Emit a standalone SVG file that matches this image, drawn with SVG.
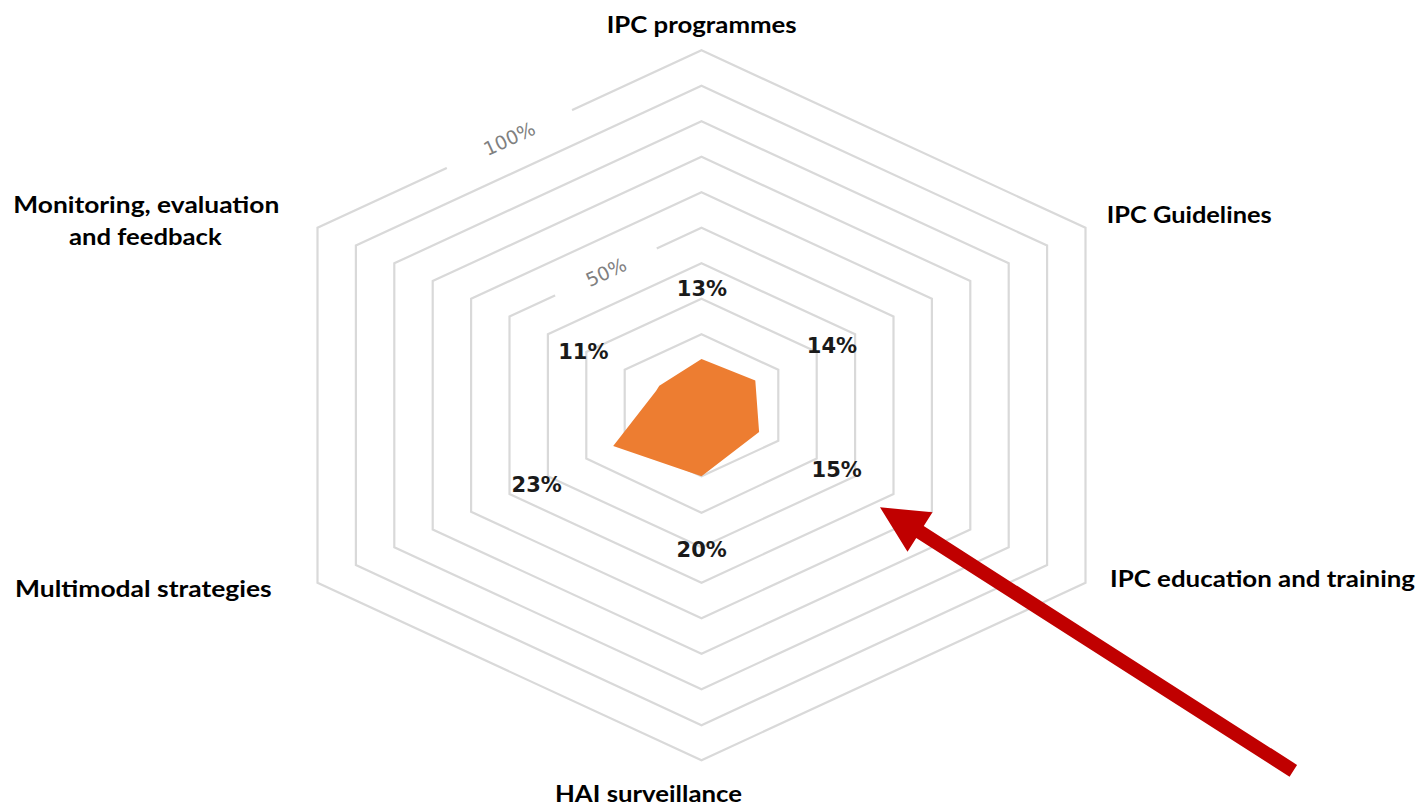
<svg xmlns="http://www.w3.org/2000/svg" width="1419" height="808" viewBox="0 0 1419 808">
<style>
.ring{fill:none;stroke:#d9d9d9;stroke-width:2.2}
.gap{fill:#ffffff}
.tick{font-family:"DejaVu Sans",sans-serif;font-size:19px;fill:#808080;text-anchor:middle}
.val{font-family:"DejaVu Sans",sans-serif;font-size:21px;font-weight:bold;fill:#1a1a1a;text-anchor:middle}
.axis{font-family:Lato,"Liberation Sans",sans-serif;font-size:23px;font-weight:bold;fill:#000000}
</style>
<rect width="1419" height="808" fill="#ffffff"/>
<g id="grid">
<polygon class="ring" points="701.5,369.8 739.9,387.55 739.9,423.05 701.5,440.8 663.1,423.05 663.1,387.55"/>
<polygon class="ring" points="701.5,334.3 778.3,369.8 778.3,440.8 701.5,476.3 624.7,440.8 624.7,369.8"/>
<polygon class="ring" points="701.5,298.8 816.7,352.05 816.7,458.55 701.5,512.8 586.3,458.55 586.3,352.05"/>
<polygon class="ring" points="701.5,263.3 855.1,334.3 855.1,476.3 701.5,547.3 547.9,476.3 547.9,334.3"/>
<polygon class="ring" points="701.5,227.8 893.5,316.55 893.5,494.05 701.5,582.8 509.5,494.05 509.5,316.55"/>
<polygon class="ring" points="701.5,192.3 931.9,298.8 931.9,511.8 701.5,618.3 471.1,511.8 471.1,298.8"/>
<polygon class="ring" points="701.5,156.8 970.3,281.05 970.3,529.55 701.5,653.8 432.7,529.55 432.7,281.05"/>
<polygon class="ring" points="701.5,121.3 1008.7,263.3 1008.7,547.3 701.5,689.3 394.3,547.3 394.3,263.3"/>
<polygon class="ring" points="701.5,85.8 1047.1,245.55 1047.1,565.05 701.5,725.3 355.9,565.05 355.9,245.55"/>
<polygon class="ring" points="701.5,50.3 1085.5,227.8 1085.5,582.8 701.5,760.3 317.5,582.8 317.5,227.8"/>
</g>
<g id="tick-100" transform="translate(509.2,138.5) rotate(-24.8)">
<rect class="gap" x="-69" y="-7" width="138" height="14"/>
<text class="tick" x="0" y="7">100%</text>
</g>
<g id="tick-50" transform="translate(606,272) rotate(-24.8)">
<rect class="gap" x="-56" y="-7" width="112" height="14"/>
<text class="tick" x="0" y="7">50%</text>
</g>
<g id="series">
<polygon fill="#ED7D31" points="701.5,359.1 755.3,380.45 759.1,432.0 701.5,476.3 613.2,446.1 656,391 659.3,385.8"/>
</g>
<g id="values">
<text class="val" x="702" y="296">13%</text>
<text class="val" x="832" y="353.3">14%</text>
<text class="val" x="836.7" y="477.3">15%</text>
<text class="val" x="701.7" y="557.3">20%</text>
<text class="val" x="536.7" y="492.3">23%</text>
<text class="val" x="583.3" y="359.3">11%</text>
</g>
<g id="axis-ipc-programmes"><text class="axis" x="606.7" y="33.3" textLength="190" lengthAdjust="spacingAndGlyphs">IPC programmes</text></g>
<g id="axis-ipc-guidelines"><text class="axis" x="1106.7" y="223.3" textLength="165" lengthAdjust="spacingAndGlyphs">IPC Guidelines</text></g>
<g id="axis-ipc-education"><text class="axis" x="1110" y="586.7" textLength="305" lengthAdjust="spacingAndGlyphs">IPC education and training</text></g>
<g id="axis-hai"><text class="axis" x="555" y="801.7" textLength="187" lengthAdjust="spacingAndGlyphs">HAI surveillance</text></g>
<g id="axis-multimodal"><text class="axis" x="15" y="596.7" textLength="256.7" lengthAdjust="spacingAndGlyphs">Multimodal strategies</text></g>
<g id="axis-monitoring">
<text class="axis" x="13.3" y="213.3" textLength="266" lengthAdjust="spacingAndGlyphs">Monitoring, evaluation</text>
<text class="axis" x="69" y="245" textLength="152.7" lengthAdjust="spacingAndGlyphs">and feedback</text>
</g>
<g id="connectors">
<polygon fill="#C00000" points="880,507.3 932.5,512.3 923.75,526.1 1297.05,764.9 1289.55,776.7 916.25,537.9 907.5,551.7"/>
</g>
</svg>
